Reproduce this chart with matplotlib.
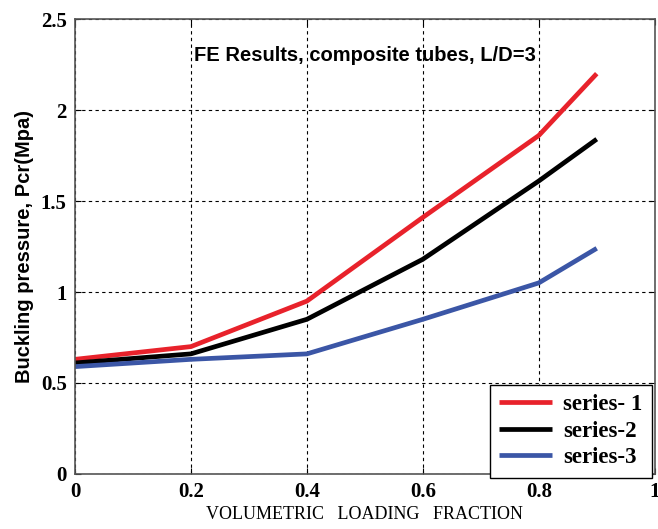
"""Buckling pressure vs volumetric loading fraction"""

import matplotlib
matplotlib.use("Agg")
import matplotlib.pyplot as plt

# data
fraction = [0.0, 0.2, 0.4, 0.6, 0.8, 0.9]
series_1 = [0.63, 0.70, 0.95, 1.41, 1.86, 2.20]
series_2 = [0.61, 0.66, 0.85, 1.18, 1.61, 1.84]
series_3 = [0.59, 0.63, 0.66, 0.85, 1.05, 1.24]
labels = ["series- 1", "series-2", "series-3"]
colors = ["#e8222b", "#000000", "#3b56a6"]
x_ticks = [0, 0.2, 0.4, 0.6, 0.8, 1]
y_ticks = [0, 0.5, 1, 1.5, 2, 2.5]

serif = {"family": "Liberation Serif", "weight": "bold"}

fig = plt.figure(figsize=(6.58, 5.29), dpi=100)
ax = fig.add_axes([0.114, 0.104, 0.881, 0.860])

for values, label, color in zip([series_1, series_2, series_3], labels, colors):
    ax.plot(fraction, values, color=color, linewidth=3.4, label=label,
            solid_capstyle="butt")

ax.set_xlim(0, 1)
ax.set_ylim(0, 2.5)
ax.set_xticks(x_ticks)
ax.set_yticks(y_ticks)
ax.set_xticklabels(["0", "0.2", "0.4", "0.6", "0.8", "1"], fontdict=serif, fontsize=15)
ax.set_yticklabels(["0", "0.5", "1", "1.5", "2", "2.5"], fontdict=serif, fontsize=15)
ax.tick_params(direction="in", right=True, top=True, length=4, pad=6)

# matlab style dotted grid
ax.grid(True, linestyle=(0, (3, 3)), color="black", linewidth=0.8)
for spine in ax.spines.values():
    spine.set_color("#555555")
    spine.set_linewidth(1.2)

ax.set_ylabel("Buckling pressure, Pcr(Mpa)", family="Liberation Sans",
              weight="bold", fontsize=14.5, labelpad=5)
ax.set_xlabel("VOLUMETRIC   LOADING   FRACTION", family="Liberation Serif",
              fontsize=13, labelpad=3)
ax.text(0.5, 0.92, "FE Results, composite tubes, L/D=3", transform=ax.transAxes,
        ha="center", va="center", family="Liberation Sans", weight="bold", fontsize=14.5)

leg = ax.legend(loc="lower right", prop={"family": "Liberation Serif", "weight": "bold", "size": 16.5},
                fancybox=False, framealpha=1, edgecolor="black", handlelength=2.3,
                borderpad=0.4, labelspacing=0.25, handletextpad=0.5,
                borderaxespad=0, bbox_to_anchor=(0.995, -0.008))
leg.get_frame().set_linewidth(1.0)

fig.savefig("out.png", dpi=100)
